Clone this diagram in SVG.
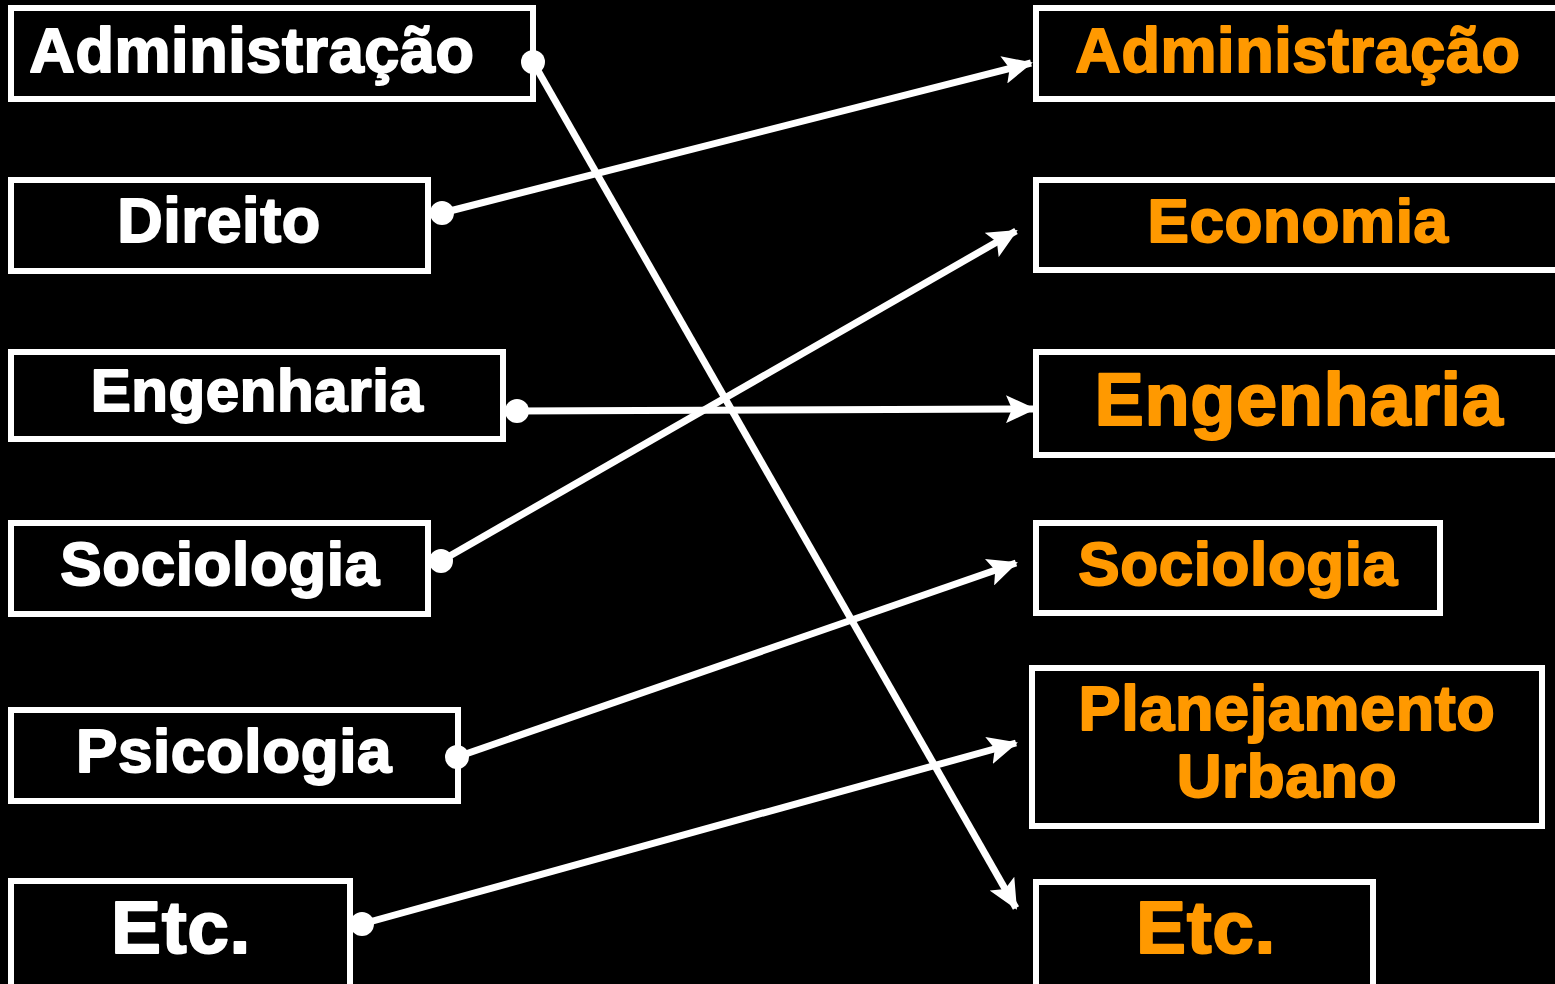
<svg xmlns="http://www.w3.org/2000/svg" width="1555" height="984" viewBox="0 0 1555 984">
<defs>
<style>
.box{fill:#000;stroke:#fff;stroke-width:6}
.t{font-family:"Liberation Sans",Arial,sans-serif;font-weight:bold;text-anchor:middle;stroke-width:1.9;stroke-linejoin:round;letter-spacing:0.6px}
.w{fill:#fff;stroke:#fff}
.o{fill:#FF9900;stroke:#FF9900}
.c{stroke:#fff;stroke-width:7;fill:none;marker-end:url(#ah)}
.dot{fill:#fff}
</style>
<marker id="ah" viewBox="0 0 30 28" refX="28" refY="14" markerWidth="30" markerHeight="28" markerUnits="userSpaceOnUse" orient="auto">
<path d="M0,0 L30,14 L0,28 L6,14 Z" fill="#fff"/>
</marker>
</defs>
<rect width="1555" height="984" fill="#000"/>
<g id="l-admin"><rect class="box" x="11" y="8" width="522" height="91"/><text class="t w" x="252" y="72" font-size="63">Administração</text></g>
<g id="l-direito"><rect class="box" x="11" y="180" width="417" height="91"/><text class="t w" x="219" y="242" font-size="63">Direito</text></g>
<g id="l-eng"><rect class="box" x="11" y="352" width="492" height="87"/><text class="t w" x="257" y="411" font-size="60">Engenharia</text></g>
<g id="l-socio"><rect class="box" x="11" y="523" width="417" height="91"/><text class="t w" x="220" y="585" font-size="62">Sociologia</text></g>
<g id="l-psico"><rect class="box" x="11" y="710" width="447" height="91"/><text class="t w" x="234" y="772" font-size="62">Psicologia</text></g>
<g id="l-etc"><rect class="box" x="11" y="881" width="339" height="110"/><text class="t w" x="181" y="953" font-size="75">Etc.</text></g>

<g id="r-admin"><rect class="box" x="1036" y="8" width="530" height="91"/><text class="t o" x="1298" y="72" font-size="63">Administração</text></g>
<g id="r-eco"><rect class="box" x="1036" y="180" width="530" height="90"/><text class="t o" x="1298" y="242" font-size="62">Economia</text></g>
<g id="r-eng"><rect class="box" x="1036" y="352" width="530" height="103"/><text class="t o" x="1299" y="425" font-size="74">Engenharia</text></g>
<g id="r-socio"><rect class="box" x="1036" y="523" width="404" height="90"/><text class="t o" x="1238" y="585" font-size="62">Sociologia</text></g>
<g id="r-plan"><rect class="box" x="1032" y="668" width="510" height="158"/><text class="t o" x="1287" y="730" font-size="63">Planejamento</text><text class="t o" x="1287" y="797" font-size="62">Urbano</text></g>
<g id="r-etc"><rect class="box" x="1036" y="882" width="337" height="110"/><text class="t o" x="1206" y="953" font-size="75">Etc.</text></g>

<g id="connectors">
<line class="c" x1="533" y1="62" x2="1016" y2="908"/>
<line class="c" x1="442" y1="213" x2="1031" y2="63"/>
<line class="c" x1="517" y1="411" x2="1034" y2="409"/>
<line class="c" x1="441" y1="561" x2="1016" y2="231"/>
<line class="c" x1="457" y1="757" x2="1016" y2="563"/>
<line class="c" x1="362" y1="924" x2="1016" y2="743"/>
<circle class="dot" cx="533" cy="62" r="12"/>
<circle class="dot" cx="442" cy="213" r="12"/>
<circle class="dot" cx="517" cy="411" r="12"/>
<circle class="dot" cx="441" cy="561" r="12"/>
<circle class="dot" cx="457" cy="757" r="12"/>
<circle class="dot" cx="362" cy="924" r="12"/>
</g>
</svg>
